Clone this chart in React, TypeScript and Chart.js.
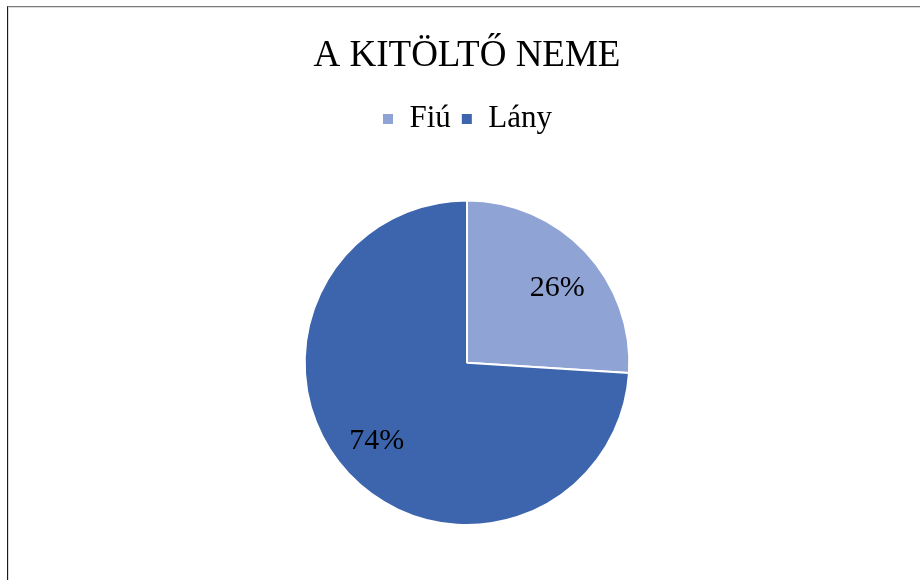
import React, { useEffect, useRef } from "react";
import { Chart, registerables } from "chart.js";

Chart.register(...registerables);

const titleText = "A KITÖLTŐ NEME";
const categories = ["Fiú", "Lány"];
const values = [26, 74];
const colors = ["#8FA3D5", "#3D65AD"];

const FONT = "'Liberation Serif', 'Times New Roman', serif";

const labelPlugin = {
  id: "sliceLabels",
  afterDatasetsDraw(chart: any) {
    const ctx = chart.ctx;
    const meta = chart.getDatasetMeta(0);
    const total = values.reduce((a, b) => a + b, 0);
    ctx.save();
    ctx.font = `30px ${FONT}`;
    ctx.fillStyle = "#000";
    ctx.textAlign = "center";
    ctx.textBaseline = "middle";
    meta.data.forEach((arc: any, i: number) => {
      const p = arc.getProps(["x", "y", "startAngle", "endAngle", "outerRadius"], true);
      const mid = (p.startAngle + p.endAngle) / 2 + 0.05;
      const r = p.outerRadius * 0.73;
      const txt = Math.round((values[i] / total) * 100) + "%";
      ctx.fillText(txt, p.x + Math.cos(mid) * r, p.y + Math.sin(mid) * r + 2);
    });
    ctx.restore();
  },
};

const legendGapPlugin = {
  id: "legendGap",
  beforeInit(chart: any) {
    const legend = chart.legend;
    if (!legend) return;
    const orig = legend.fit;
    legend.fit = function () {
      orig.bind(this)();
      this.height += 55;
    };
  },
};

export default function App() {
  const ref = useRef<HTMLCanvasElement>(null);
  useEffect(() => {
    if (!ref.current) return;
    const chart = new Chart(ref.current, {
      type: "pie",
      data: {
        labels: categories,
        datasets: [
          {
            data: values,
            backgroundColor: colors,
            borderColor: "#ffffff",
            borderWidth: 2,
          },
        ],
      },
      options: {
        animation: false,
        responsive: false,
        maintainAspectRatio: false,
        layout: { padding: { left: 14, right: 0, top: 0, bottom: 54 } },
        plugins: {
          title: {
            display: true,
            text: titleText,
            color: "#000",
            font: { family: FONT, size: 37, weight: "normal" },
            padding: { top: 34, bottom: 15 },
          },
          legend: {
            display: true,
            position: "top",
            labels: {
              color: "#000",
              font: { family: FONT, size: 31 },
              boxWidth: 12,
              boxHeight: 12,
              padding: 10,
            },
          },
          tooltip: { enabled: false },
        },
      },
      plugins: [labelPlugin, legendGapPlugin],
    });
    return () => chart.destroy();
  }, []);
  return (
    <div style={{ position: "fixed", left: 0, top: 0, width: 920, height: 580, background: "#fff" }}>
      <canvas ref={ref} width={920} height={580} style={{ position: "absolute", left: 0, top: 0 }} />
      <div
        style={{
          position: "absolute",
          left: 7,
          top: 6,
          right: 0,
          bottom: 0,
          borderTop: "1px solid #7a7a7a",
          borderLeft: "1px solid #1a1a1a",
          boxShadow: "inset 1px 1px 0 #dcdcdc",
          pointerEvents: "none",
        }}
      />
    </div>
  );
}
